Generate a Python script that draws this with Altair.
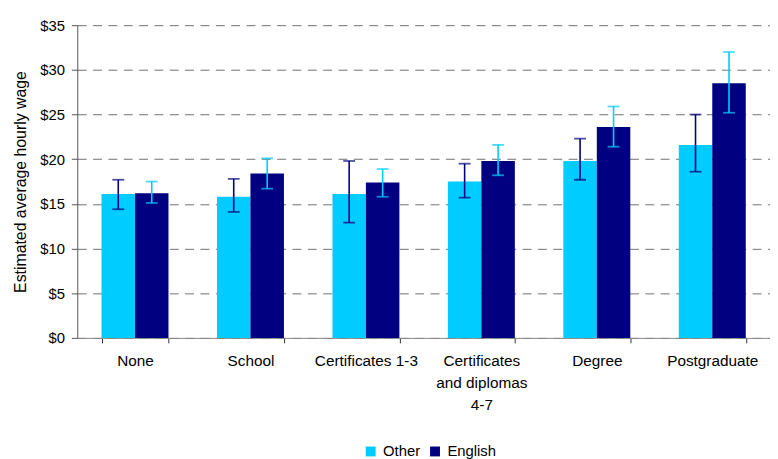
import altair as alt
import pandas as pd

categories = ["None", "School", "Certificates 1-3", "Certificates and diplomas 4-7", "Degree", "Postgraduate"]
series = ["Other", "English"]
other_mean = [16.1, 15.8, 16.1, 17.5, 19.8, 21.6]
other_lo = [14.4, 14.1, 12.9, 15.7, 17.7, 18.6]
other_hi = [17.7, 17.8, 19.8, 19.5, 22.3, 25.0]
english_mean = [16.2, 18.4, 17.4, 19.8, 23.6, 28.5]
english_lo = [15.1, 16.7, 15.8, 18.2, 21.4, 25.2]
english_hi = [17.5, 20.1, 18.9, 21.6, 25.9, 32.0]
y_ticks = [0, 5, 10, 15, 20, 25, 30, 35]

rows = []
for i, c in enumerate(categories):
    rows.append({"cat": c, "series": "Other", "mean": other_mean[i], "lo": other_lo[i], "hi": other_hi[i]})
    rows.append({"cat": c, "series": "English", "mean": english_mean[i], "lo": english_lo[i], "hi": english_hi[i]})
df = pd.DataFrame(rows)

FONT = "Liberation Sans"
CYAN = "#00CCFF"
NAVY = "#000080"

x_enc = alt.X("cat:N", sort=categories, title=None,
              scale=alt.Scale(paddingInner=0.42, paddingOuter=0.21),
              axis=alt.Axis(labelAngle=0, tickBand="extent", domainColor="#888888", tickColor="#333333",
                            tickSize=5, labelFont=FONT, labelFontSize=15.5, labelColor="#000000",
                            labelPadding=11, labelLineHeight=22,
                            labelExpr="datum.value == 'Certificates and diplomas 4-7' ? ['Certificates', 'and diplomas', '4-7'] : datum.label"))
xoff = alt.XOffset("series:N", sort=series, scale=alt.Scale(domain=series))

bars = alt.Chart(df).mark_bar().encode(
    x=x_enc,
    xOffset=xoff,
    y=alt.Y("mean:Q", title="Estimated average hourly wage",
            scale=alt.Scale(domain=[0, 35], nice=False),
            axis=alt.Axis(values=y_ticks, format="$,.0f", grid=True,
                          gridDash=[9, 6.5], gridColor="#707070", gridWidth=1,
                          domainColor="#555555", tickColor="#555555", tickSize=6,
                          labelFont=FONT, labelFontSize=15, labelColor="#000000", labelPadding=7,
                          titleFont=FONT, titleFontSize=16, titleFontWeight="normal", titleColor="#000000",
                          titlePadding=11)),
    color=alt.Color("series:N", sort=series,
                    scale=alt.Scale(domain=series, range=[CYAN, NAVY]),
                    legend=alt.Legend(title=None, orient="none", legendX=289, legendY=423,
                                      direction="horizontal",
                                      symbolType="square", symbolSize=100, symbolStrokeWidth=0,
                                      labelFont=FONT, labelFontSize=15, labelColor="#000000",
                                      columnPadding=7, labelOffset=5)),
)

err_color = alt.condition(alt.datum.series == "Other", alt.value(NAVY), alt.value(CYAN))

rules = alt.Chart(df).mark_rule(strokeWidth=1.6).encode(
    x=alt.X("cat:N", sort=categories),
    xOffset=xoff,
    y="lo:Q",
    y2="hi:Q",
    color=err_color,
)
cap_lo = alt.Chart(df).mark_tick(size=12, thickness=1.8).encode(
    x=alt.X("cat:N", sort=categories),
    xOffset=xoff,
    y="lo:Q",
    color=err_color,
)
cap_hi = alt.Chart(df).mark_tick(size=12, thickness=1.8).encode(
    x=alt.X("cat:N", sort=categories),
    xOffset=xoff,
    y="hi:Q",
    color=err_color,
)

chart = alt.layer(bars, rules, cap_lo, cap_hi).properties(
    width=700, height=316,
    autosize=alt.AutoSizeParams(type="none"),
    padding={"top": 15, "left": 70, "right": 0, "bottom": 120},
).configure_view(stroke=None)

chart.save("out.html", embed_options={"renderer": "svg", "actions": False})
